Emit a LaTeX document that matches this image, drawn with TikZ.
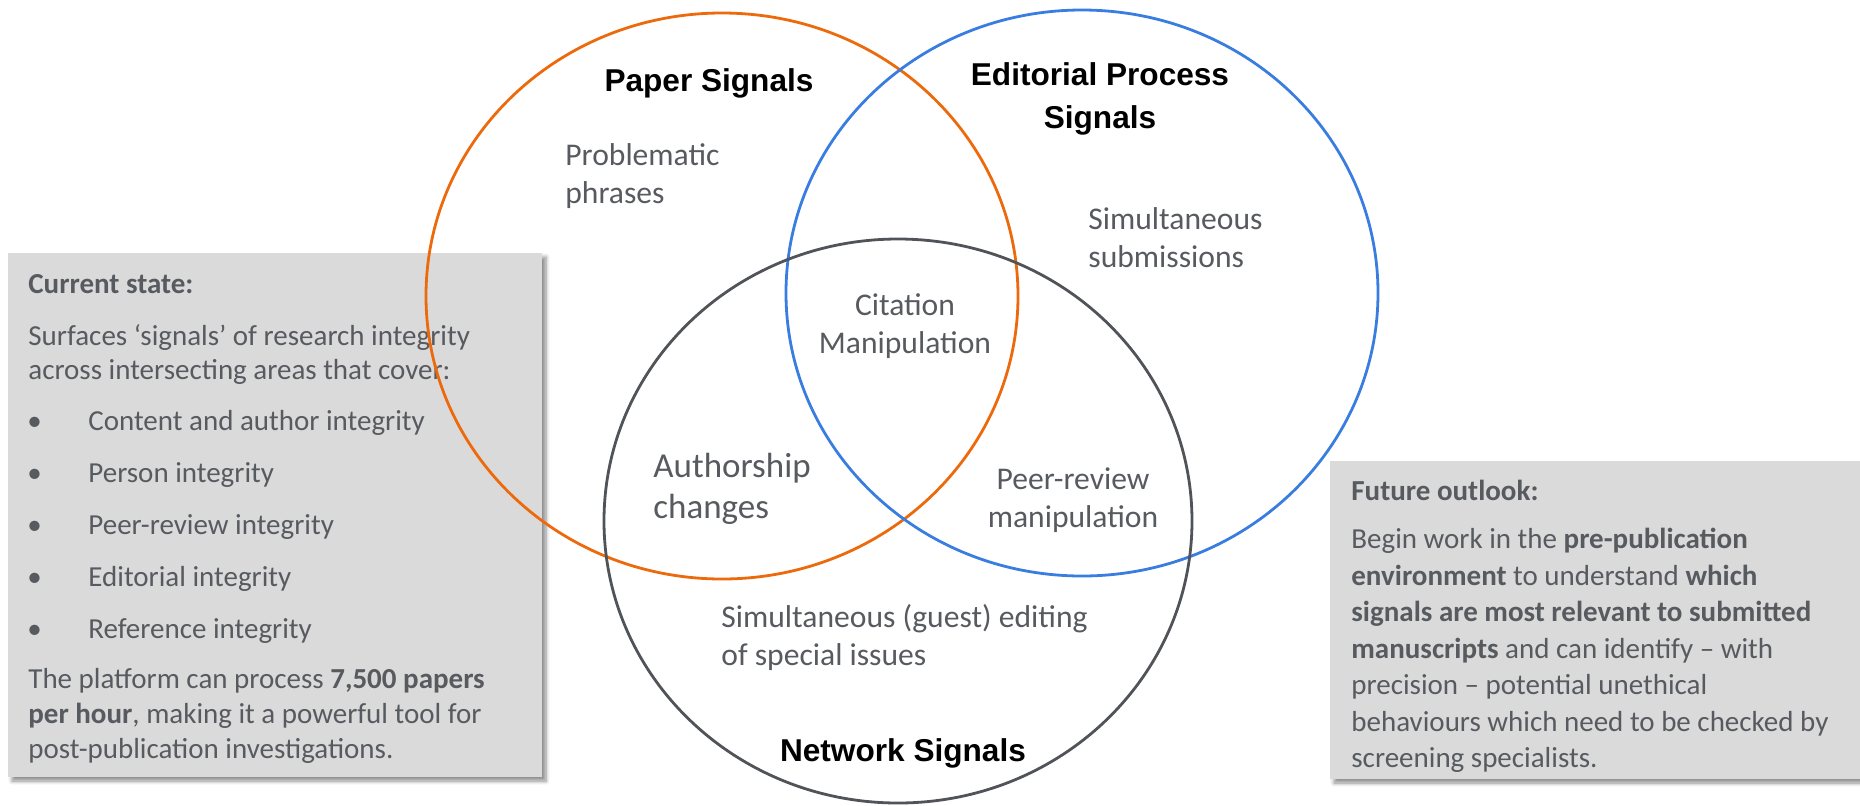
\documentclass[tikz,border=0pt]{standalone}
\usepackage{fontspec}
\setmainfont{Carlito}
\newfontfamily\headfont{Liberation Sans}
\usetikzlibrary{shadows.blur}

\definecolor{paperorange}{RGB}{236,106,12}
\definecolor{editblue}{RGB}{58,125,224}
\definecolor{netgray}{RGB}{80,83,88}
\definecolor{txtgray}{RGB}{87,90,95}
\definecolor{boxgray}{RGB}{218,218,218}

\begin{document}
\begin{tikzpicture}[x=0.5pt,y=-0.5pt,
                ring/.style={line width=1.4pt},
                infobox/.style={fill=boxgray,blur shadow={shadow xshift=2pt,shadow yshift=-2pt,shadow blur steps=6,shadow blur extra rounding=0pt,shadow opacity=45}},
                head/.style={font=\headfont\bfseries\fontsize{15.8pt}{21.5pt}\selectfont,align=center,inner sep=0pt,anchor=base},
                area/.style={text=txtgray,font=\fontsize{15.8pt}{19pt}\selectfont,inner sep=0pt,anchor=base west,align=left},
                boxtext/.style={text=txtgray,font=\fontsize{14.5pt}{17.5pt}\selectfont,inner sep=0pt,anchor=base west}]
                \useasboundingbox (0,0) rectangle (1860,805);

                \path[infobox] (8,253) rectangle (542,777);
                \path[infobox] (1330,461) rectangle (1870,779);

                \node[boxtext] (cur) at (28,293) {\textbf{Current state:}};
                \node[boxtext] (cur1) at (28,345) {Surfaces ‘signals’ of research integrity};
                \node[boxtext] (cur2) at (28,379) {across intersecting areas that cover:};
                \foreach \txt [count=\i] in {Content and author integrity,Person integrity,Peer-review integrity,Editorial integrity,Reference integrity}
                    {
                    \node[boxtext] (dot\i) at (27,{378+52*\i}) {\textbullet};
                    \node[boxtext] (item\i) at (88,{378+52*\i}) {\txt};
                    }
                \node[boxtext] (plat1) at (28,688) {The platform can process \textbf{7,500 papers}};
                \node[boxtext] (plat2) at (28,723) {\textbf{per hour}, making it a powerful tool for};
                \node[boxtext] (plat3) at (28,758) {post-publication investigations.};

                \node[boxtext] (fut) at (1351,500) {\textbf{Future outlook:}};
                \node[boxtext] (fut1) at (1351,548) {Begin work in the \textbf{pre-publication}};
                \node[boxtext] (fut2) at (1351,585) {\textbf{environment} to understand \textbf{which}};
                \node[boxtext] (fut3) at (1351,621) {\textbf{signals are most relevant to submitted}};
                \node[boxtext] (fut4) at (1351,658) {\textbf{manuscripts} and can identify -- with};
                \node[boxtext] (fut5) at (1351,694) {precision -- potential unethical};
                \node[boxtext] (fut6) at (1351,731) {behaviours which need to be checked by};
                \node[boxtext] (fut7) at (1351,767) {screening specialists.};

                \coordinate (P) at (722,296);
                \coordinate (E) at (1082,293);
                \coordinate (N) at (898,521);
                \draw[ring,paperorange] (P) ellipse [x radius=148pt,y radius=141.5pt];
                \draw[ring,editblue] (E) ellipse [x radius=148pt,y radius=141.5pt];
                \draw[ring,netgray] (N) ellipse [x radius=147pt,y radius=141pt];

                \node[head] (paper) at (709,91) {Paper Signals};
                \node[head] (edit) at (1100,128) {Editorial Process\\Signals};
                \node[head] (net) at (903,761) {Network Signals};

                \node[area] (phr) at (565,203) {Problematic\\phrases};
                \node[area] (sub) at (1088,267) {Simultaneous\\submissions};
                \node[area,anchor=base,align=center] (cit) at (905,353) {Citation\\Manipulation};
                \node[area,font=\fontsize{17.5pt}{20.5pt}\selectfont] (auth) at (653,518) {Authorship\\changes};
                \node[area,anchor=base,align=center] (peer) at (1073,527) {Peer-review\\manipulation};
                \node[area] (guest) at (721,665) {Simultaneous (guest) editing\\of special issues};
\end{tikzpicture}
\end{document}
